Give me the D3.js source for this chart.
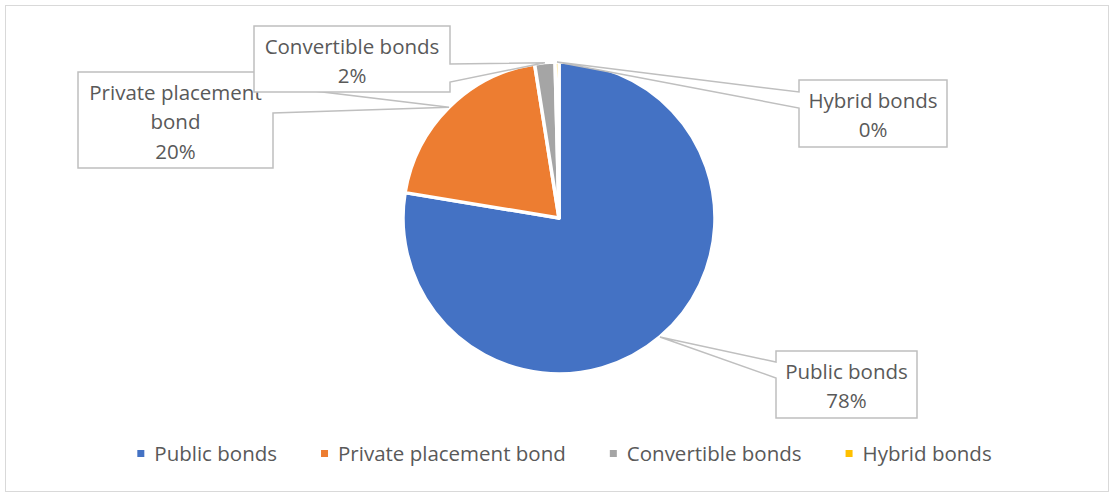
<!DOCTYPE html>
<html>
<head>
<meta charset="utf-8">
<script src="https://cdn.jsdelivr.net/npm/d3@7"></script>
<style>
  body { margin: 0; background: #fff; }
  svg { display: block; font-family: "Open Sans", sans-serif; }
</style>
</head>
<body>
<div id="chart"></div>
<script>
const WIDTH = 1110;
const HEIGHT = 493;

// data
const categories = ["Public bonds", "Private placement bond", "Convertible bonds", "Hybrid bonds"];
const shares = [77.6, 19.9, 2.1, 0.4];
const percentLabels = ["78%", "20%", "2%", "0%"];
const labelLines = [["Public bonds"], ["Private placement", "bond"], ["Convertible bonds"], ["Hybrid bonds"]];
const colors = ["#4472C4", "#ED7D31", "#A5A5A5", "#FFC000"];

// callout boxes (layout only): box, side the wedge leaves from, wedge base
const callouts = [
  {x: 776, y: 351, w: 141, h: 67, side: "left", a: 362, b: 378},
  {x: 78, y: 72, w: 195, h: 96, side: "right", a: 86, b: 113},
  {x: 254, y: 26, w: 196, h: 66, side: "right", a: 64, b: 82},
  {x: 799, y: 80, w: 148, h: 67, side: "left", a: 92, b: 108}
];

const CX = 559, CY = 218, R = 156;
const FONT = 20.5;
const TEXT = "#595959";

const svg = d3.select("#chart")
  .append("svg")
    .attr("width", WIDTH)
    .attr("height", HEIGHT);

// chart border
svg.append("rect")
  .attr("x", 5.5).attr("y", 5.5)
  .attr("width", 1103).attr("height", 486)
  .attr("fill", "#fff")
  .attr("stroke", "#D9D9D9")
  .attr("stroke-width", 1);

const pie = d3.pie().sort(null).value(d => d);
const arcs = pie(shares);
const arc = d3.arc().innerRadius(0).outerRadius(R);
const rim = d3.arc().innerRadius(R).outerRadius(R);

const g = svg.append("g").attr("transform", `translate(${CX},${CY})`);

g.selectAll("path.slice")
  .data(arcs)
  .join("path")
    .attr("class", "slice")
    .attr("d", arc)
    .attr("fill", (d, i) => colors[i])
    .attr("stroke", "#fff")
    .attr("stroke-width", 3.5)
    .attr("stroke-linejoin", "round");

// callouts with a wedge pointing at the slice rim
function calloutPath(c, tip) {
  const x0 = c.x, y0 = c.y, x1 = c.x + c.w, y1 = c.y + c.h;
  let pts;
  if (c.side === "right") {
    pts = [[x0, y0], [x1, y0], [x1, c.a], tip, [x1, c.b], [x1, y1], [x0, y1]];
  } else {
    pts = [[x0, y0], [x1, y0], [x1, y1], [x0, y1], [x0, c.b], tip, [x0, c.a]];
  }
  return "M" + pts.map(p => p.join(",")).join("L") + "Z";
}

const labels = svg.append("g");
arcs.forEach((d, i) => {
  const c = callouts[i];
  const p = rim.centroid(d);
  const tip = [CX + p[0], CY + p[1]];
  const lg = labels.append("g");
  lg.append("path")
    .attr("d", calloutPath(c, tip))
    .attr("fill", "#fff")
    .attr("stroke", "#BFBFBF")
    .attr("stroke-width", 1.5);
  const lines = labelLines[i].concat([percentLabels[i]]);
  lg.selectAll("text")
    .data(lines)
    .join("text")
      .attr("x", c.x + c.w / 2)
      .attr("y", (t, k) => c.y + 27.5 + k * 29.5)
      .attr("text-anchor", "middle")
      .attr("font-size", FONT)
      .attr("fill", TEXT)
      .text(t => t);
});

// legend
const legend = svg.append("g");
const items = legend.selectAll("g")
  .data(categories)
  .join("g");
items.append("rect")
  .attr("width", 7).attr("height", 7)
  .attr("y", 450)
  .attr("fill", (d, i) => colors[i]);
items.append("text")
  .attr("y", 461)
  .attr("font-size", FONT)
  .attr("fill", TEXT)
  .text(d => d);

const GAP = 44;
let widths = [];
items.select("text").each(function() { widths.push(this.getComputedTextLength()); });
const total = d3.sum(widths) + categories.length * 17 + (categories.length - 1) * GAP;
let lx = 564.5 - total / 2;
items.each(function(d, i) {
  d3.select(this).select("rect").attr("x", lx);
  d3.select(this).select("text").attr("x", lx + 17);
  lx += 17 + widths[i] + GAP;
});
</script>
</body>
</html>
